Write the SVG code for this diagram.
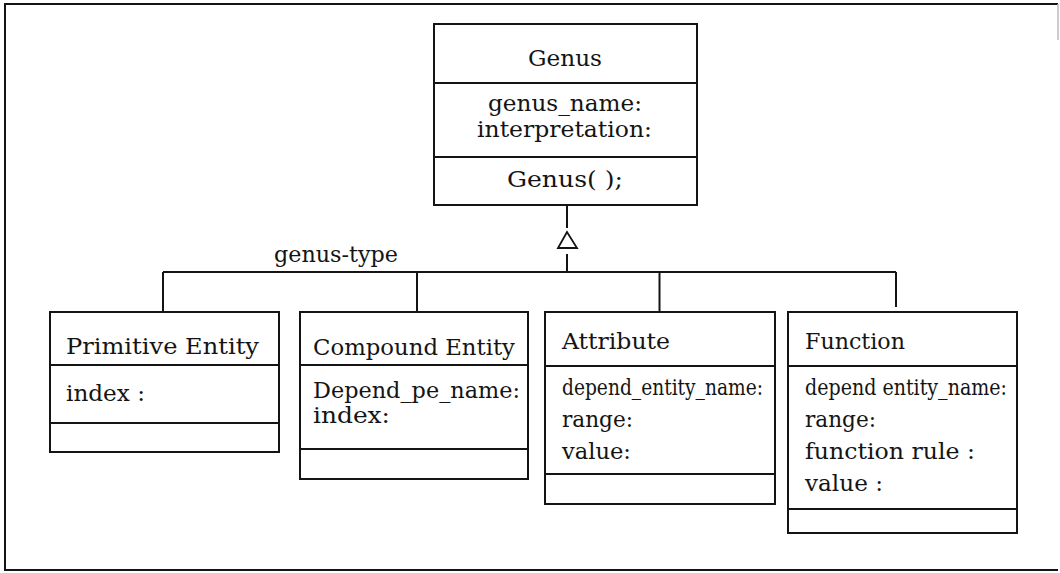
<svg xmlns="http://www.w3.org/2000/svg" width="1060" height="573" viewBox="0 0 1060 573">
<style>
.box{fill:#fff;stroke:#141414;stroke-width:2}
.ln{fill:none;stroke:#141414;stroke-width:2}
.t{font-family:"DejaVu Serif","Liberation Serif",serif;font-size:23px;fill:#141414}
.s{font-family:"DejaVu Serif","Liberation Serif",serif;font-size:22px;fill:#141414}
</style>
<rect width="1060" height="573" fill="#fff"/>
<g id="frame">
<path class="ln" d="M1058,4 H5 V570 H1058"/>
<path d="M1058,4 V40" stroke="#bbb" stroke-width="1.5"/>
</g>
<g id="connectors">
<path class="ln" d="M567,206 V228 M567,254 V272 M163,272 H896 M163,272 V312 M417,272 V312 M659.5,272 V312 M896,272 V307"/>
<polygon points="567,232 558,248 577,248" fill="#fff" stroke="#141414" stroke-width="1.8"/>
<text class="t" x="274" y="262" textLength="124" lengthAdjust="spacingAndGlyphs">genus-type</text>
</g>
<g id="genus">
<rect class="box" x="434" y="24" width="263" height="181"/>
<path class="ln" d="M434,83 H697 M434,157 H697"/>
<text class="t" x="528" y="66" textLength="74" lengthAdjust="spacingAndGlyphs">Genus</text>
<text class="t" x="488" y="111" textLength="154" lengthAdjust="spacingAndGlyphs">genus_name:</text>
<text class="t" x="477" y="137" textLength="175" lengthAdjust="spacingAndGlyphs">interpretation:</text>
<text class="t" x="507" y="187" textLength="116" lengthAdjust="spacingAndGlyphs">Genus( );</text>
</g>
<g id="primitive-entity">
<rect class="box" x="50" y="312" width="229" height="140"/>
<path class="ln" d="M50,365 H279 M50,423 H279"/>
<text class="t" x="66" y="354" textLength="193" lengthAdjust="spacingAndGlyphs">Primitive Entity</text>
<text class="t" x="66" y="401" textLength="79" lengthAdjust="spacingAndGlyphs">index :</text>
</g>
<g id="compound-entity">
<rect class="box" x="300" y="312" width="228" height="167"/>
<path class="ln" d="M300,365 H528 M300,449 H528"/>
<text class="t" x="313" y="355" textLength="202" lengthAdjust="spacingAndGlyphs">Compound Entity</text>
<text class="t" x="313" y="398" textLength="207" lengthAdjust="spacingAndGlyphs">Depend_pe_name:</text>
<text class="t" x="313" y="423" textLength="77" lengthAdjust="spacingAndGlyphs">index:</text>
</g>
<g id="attribute">
<rect class="box" x="545" y="312" width="230" height="192"/>
<path class="ln" d="M545,366 H775 M545,474 H775"/>
<text class="t" x="562" y="349" textLength="108" lengthAdjust="spacingAndGlyphs">Attribute</text>
<text class="s" x="562" y="395" textLength="201" lengthAdjust="spacingAndGlyphs">depend_entity_name:</text>
<text class="t" x="562" y="427" textLength="71" lengthAdjust="spacingAndGlyphs">range:</text>
<text class="t" x="562" y="459" textLength="69" lengthAdjust="spacingAndGlyphs">value:</text>
</g>
<g id="function">
<rect class="box" x="788" y="312" width="229" height="221"/>
<path class="ln" d="M788,366 H1017 M788,509 H1017"/>
<text class="t" x="805" y="349" textLength="100" lengthAdjust="spacingAndGlyphs">Function</text>
<text class="s" x="805" y="395" textLength="202" lengthAdjust="spacingAndGlyphs">depend entity_name:</text>
<text class="t" x="805" y="427" textLength="71" lengthAdjust="spacingAndGlyphs">range:</text>
<text class="t" x="805" y="459" textLength="170" lengthAdjust="spacingAndGlyphs">function rule :</text>
<text class="t" x="805" y="491" textLength="78" lengthAdjust="spacingAndGlyphs">value :</text>
</g>
</svg>
